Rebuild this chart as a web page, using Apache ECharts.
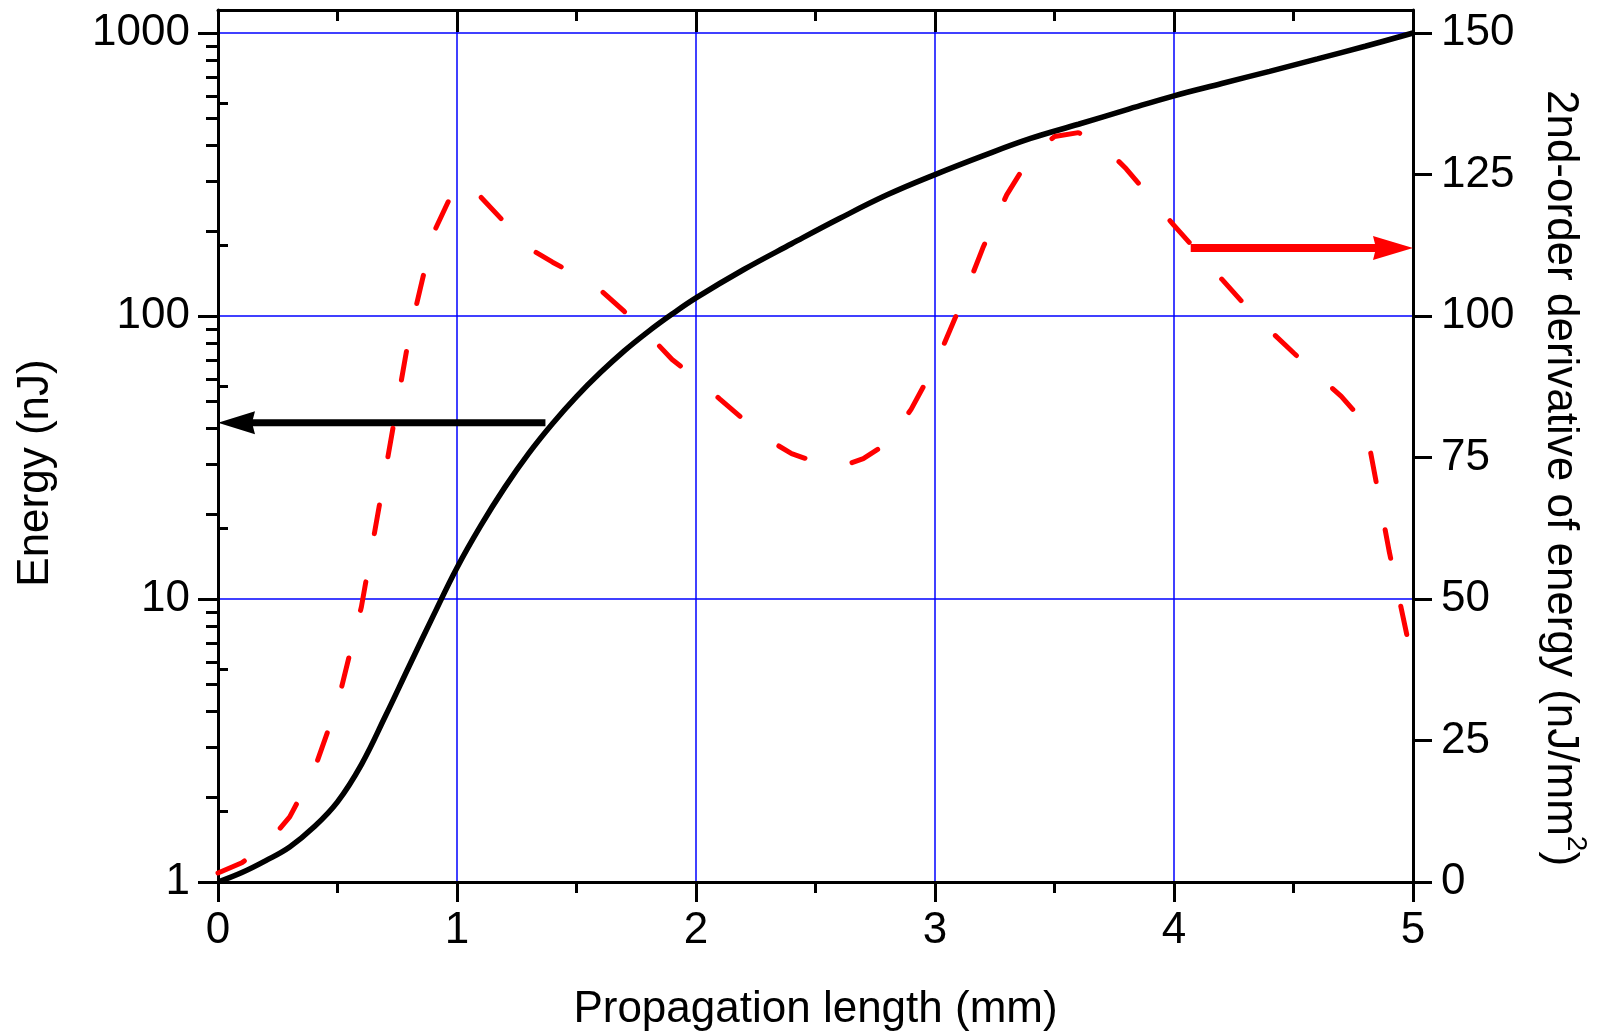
<!DOCTYPE html>
<html>
<head>
<meta charset="utf-8">
<script src="https://cdn.jsdelivr.net/npm/echarts@6/dist/echarts.min.js"></script>
<style>
html,body{margin:0;padding:0;background:#fff;}
#chart{width:1600px;height:1033px;}
</style>
</head>
<body>
<div id="chart"></div>
<script>
// ---------------- data ----------------
const energyX = [0,0.1,0.2,0.3,0.4,0.5,0.6,0.7,0.8,0.9,1.0,1.1,1.2,1.3,1.4,1.5,1.6,1.7,1.8,1.9,2.0,2.2,2.4,2.6,2.8,3.0,3.2,3.4,3.6,3.8,4.0,4.2,4.4,4.6,4.8,5.0];
const energyNJ = [1,1.08,1.19,1.33,1.56,1.92,2.6,3.85,5.8,8.7,12.9,18.2,24.8,32.7,41.7,51.9,63.1,75.3,88.1,101.6,115.9,146,180,221,268,316,368,424,476,535,600,663,732,810,898,1000];

const derivX = [0,0.1,0.2,0.3,0.4,0.5,0.6,0.7,0.8,0.9,1.0,1.1,1.2,1.3,1.4,1.5,1.6,1.7,1.8,1.9,2.0,2.1,2.2,2.3,2.4,2.5,2.6,2.7,2.8,2.9,3.0,3.1,3.2,3.3,3.4,3.5,3.6,3.7,3.8,3.9,4.0,4.1,4.2,4.3,4.4,4.5,4.6,4.7,4.8,4.9,5.0];
const derivVals = [1.6,3.4,6.5,11.5,19.5,31.5,48.6,72.5,96.5,114.5,123.5,121,116.5,112,109.5,107.2,104.6,100.8,96.8,92.3,89,85.3,81.7,78.2,75.7,74.2,73.3,74.8,77.5,83.5,91.3,101.2,112,121.4,128.2,131.7,132.4,130.2,126,121,116,111.3,106.5,101.8,97.5,93.5,89.6,85.8,81,58.5,38.5];

const xTickValues = [0,1,2,3,4,5];
const leftTickValues = [1,10,100,1000];
const leftMinorValues = [2,3,4,5,6,7,8,9,20,30,40,50,60,70,80,90,200,300,400,500,600,700,800,900];
const leftGridValues = [10,100,1000];
const rightTickValues = [0,25,50,75,100,125,150];
const rightMinorValues = [12.5,37.5,62.5,87.5,112.5,137.5];

// annotation arrows: [fromX, y, toX] in data coordinates
const energyArrow = [1.37, 42, 0];
const derivArrow = [4.07, 112, 5];

const LEFT_MAX = 1206;
const RIGHT_MAX = 154.06;

// ---------------- chart ----------------
const FONT = 'Liberation Sans, Arial, Helvetica, sans-serif';
const BLACK = '#000000';
const chart = echarts.init(document.getElementById('chart'), null, {renderer: 'canvas'});

const txt = {color: BLACK, fontFamily: FONT, fontSize: 44};
const axLine = {show: true, onZero: false, lineStyle: {color: BLACK, width: 3}};

function arrowRenderer(color, shaft, headLen, headWidth) {
  return function (params, api) {
    const p1 = api.coord([api.value(0), api.value(1)]);
    const p2 = api.coord([api.value(2), api.value(1)]);
    const dir = p2[0] >= p1[0] ? 1 : -1;
    const base = p2[0] - dir * headLen;
    const notch = 3;
    return {
      type: 'group',
      children: [
        {type: 'line', shape: {x1: p1[0], y1: p1[1], x2: base + dir * notch, y2: p2[1]},
         style: {stroke: color, lineWidth: shaft, lineCap: 'butt'}},
        {type: 'polygon', shape: {points: [[p2[0], p2[1]], [base, p2[1] - headWidth / 2], [base + dir * notch, p2[1]], [base, p2[1] + headWidth / 2]]},
         style: {fill: color}}
      ]
    };
  };
}

const option = {
  backgroundColor: '#ffffff',
  animation: false,
  grid: {left: 218, right: 187, top: 10, bottom: 151, containLabel: false, outerBoundsMode: 'none'},
  xAxis: [
    {
      type: 'value', position: 'bottom', min: 0, max: 5, interval: 1, z: 1,
      axisLine: axLine,
      axisTick: {show: true, inside: false, length: 20, lineStyle: {color: BLACK, width: 3}},
      minorTick: {show: true, splitNumber: 2, length: 11, lineStyle: {color: BLACK, width: 3}},
      axisLabel: Object.assign({margin: 27, formatter: v => String(v)}, txt),
      splitLine: {show: false},
      name: 'Propagation length (mm)', nameLocation: 'middle', nameGap: 106,
      nameTextStyle: Object.assign({}, txt)
    },
    {
      type: 'value', position: 'top', min: 0, max: 5, interval: 1, z: 1,
      axisLine: axLine,
      axisTick: {show: true, inside: true, length: 22, lineStyle: {color: BLACK, width: 3}},
      minorTick: {show: true, splitNumber: 2, length: 11, lineStyle: {color: BLACK, width: 3}},
      axisLabel: {show: false},
      splitLine: {show: false}
    },
    {
      type: 'value', position: 'bottom', min: 0, max: 5, interval: 1, z: 0,
      axisLine: {show: false}, axisTick: {show: false}, axisLabel: {show: false},
      splitLine: {show: true, lineStyle: {color: '#0000ff', width: 1.5}}
    }
  ],
  yAxis: [
    {
      type: 'log', logBase: 10, min: 1, max: LEFT_MAX, position: 'left', z: 1,
      axisLine: axLine,
      axisTick: {show: true, inside: false, length: 20, customValues: leftTickValues, lineStyle: {color: BLACK, width: 3}},
      axisLabel: Object.assign({margin: 28, customValues: leftTickValues, formatter: v => String(Math.round(v)), padding: [0, 0, 6, 0]}, txt),
      splitLine: {show: false},
      minorTick: {show: false},
      name: 'Energy (nJ)', nameLocation: 'middle', nameGap: 160, nameRotate: 90,
      nameTextStyle: Object.assign({padding: [0, 54, 0, 0]}, txt)
    },
    {
      type: 'value', min: 0, max: RIGHT_MAX, position: 'right', z: 1,
      axisLine: axLine,
      axisTick: {show: true, inside: false, length: 19, customValues: rightTickValues, lineStyle: {color: BLACK, width: 3}},
      axisLabel: Object.assign({margin: 28, customValues: rightTickValues, formatter: v => String(Math.round(v)), padding: [0, 0, 4, 0]}, txt),
      splitLine: {show: false},
      name: '{a|2nd-order derivative of energy (nJ/mm}{s|2}{a|)}',
      nameLocation: 'middle', nameGap: 125, nameRotate: -90,
      nameTextStyle: Object.assign({
        padding: [0, 0, 0, 64],
        rich: {
          a: {color: BLACK, fontFamily: FONT, fontSize: 44, verticalAlign: 'bottom'},
          s: {color: BLACK, fontFamily: FONT, fontSize: 28, lineHeight: 52, verticalAlign: 'top'}
        }
      }, txt)
    },
    {
      type: 'log', logBase: 10, min: 1, max: LEFT_MAX, position: 'left', z: 1,
      axisLine: {show: false},
      axisTick: {show: true, inside: false, length: 12, customValues: leftMinorValues, lineStyle: {color: BLACK, width: 3}},
      axisLabel: {show: false},
      splitLine: {show: false}
    },
    {
      type: 'value', min: 0, max: RIGHT_MAX, position: 'right', z: 1,
      axisLine: {show: false},
      axisTick: {show: true, inside: false, length: 10, customValues: rightMinorValues, lineStyle: {color: BLACK, width: 3}},
      axisLabel: {show: false},
      splitLine: {show: false}
    },
    {
      type: 'log', logBase: 10, min: 1, max: LEFT_MAX, position: 'left', z: 0,
      axisLine: {show: false},
      axisTick: {show: false, customValues: leftGridValues},
      axisLabel: {show: false},
      splitLine: {show: true, lineStyle: {color: '#0000ff', width: 1.5}}
    }
  ],
  series: [
    {
      name: 'Energy', type: 'line', xAxisIndex: 0, yAxisIndex: 0,
      data: energyX.map((x, i) => [x, energyNJ[i]]),
      symbol: 'none', showSymbol: false, smooth: 0.4, z: 3,
      lineStyle: {color: BLACK, width: 5.5}
    },
    {
      name: 'Energy axis arrow', type: 'custom', xAxisIndex: 0, yAxisIndex: 0,
      data: [energyArrow], encode: {x: [0, 2], y: 1},
      renderItem: arrowRenderer(BLACK, 7, 37, 23),
      clip: false, silent: true, z: 3
    },
    {
      name: '2nd-order derivative', type: 'line', xAxisIndex: 0, yAxisIndex: 1,
      data: derivX.map((x, i) => [x, derivVals[i]]),
      symbol: 'none', showSymbol: false, z: 4,
      lineStyle: {color: '#ff0000', width: 5, type: [29, 49], cap: 'round'}
    },
    {
      name: 'Derivative axis arrow', type: 'custom', xAxisIndex: 0, yAxisIndex: 1,
      data: [derivArrow], encode: {x: [0, 2], y: 1},
      renderItem: arrowRenderer('#ff0000', 8, 40, 24),
      clip: false, silent: true, z: 5
    }
  ]
};
chart.setOption(option);
</script>
</body>
</html>
